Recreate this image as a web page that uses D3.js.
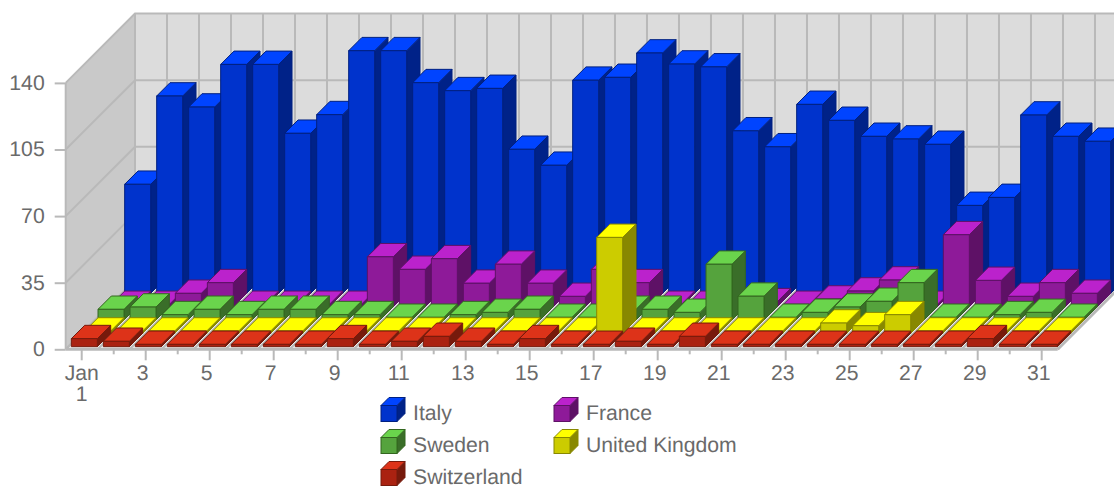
<!DOCTYPE html>
<html>
<head>
<meta charset="utf-8">
<script src="https://cdn.jsdelivr.net/npm/d3@7"></script>
<style>
  html, body { margin: 0; padding: 0; background: #fff; overflow: hidden; }
  svg { display: block; }
  text { font-family: "Liberation Sans", Arial, sans-serif; text-rendering: geometricPrecision; }
</style>
</head>
<body>
<div id="chart"></div>
<script>
// Values, one entry per day of January
const days = d3.range(1, 32);
const yTicks = [0, 35, 70, 105, 140];
const italy = [57.3, 103.7, 97.9, 120.3, 120.3, 84.1, 93.9, 127.5, 127.5, 110.7, 106.5, 107.7, 75.7, 67.3, 112, 113.5, 126.3, 120.5, 119, 85.4, 77, 99.3, 90.9, 82.5, 81.1, 78.3, 46.2, 50.4, 93.7, 82.5, 79.9];
const france = [1.2, 1.2, 7, 12.6, 1.2, 1.2, 1.2, 1.2, 26.2, 19.6, 25.2, 12.3, 22.3, 12.3, 5.4, 19.6, 12.6, 1.2, 1.2, 1.2, 2.6, 1.2, 4, 8.2, 14, 1.2, 37.8, 13.8, 5.4, 12.6, 7];
const sweden = [5.6, 6.8, 2.8, 5.6, 2.8, 5.6, 5.6, 2.8, 2.8, 1.4, 1.4, 2.8, 4, 5.6, 1.4, 1.4, 5.6, 5.6, 4, 29.3, 12.5, 1.4, 4, 6.8, 9.8, 19.6, 1.4, 1.4, 2.8, 4, 1.4];
const unitedKingdom = [1.2, 1.2, 1.2, 1.2, 1.2, 1.2, 1.2, 1.2, 1.2, 1.2, 1.2, 1.2, 1.2, 1.2, 1.2, 1.2, 50.4, 1.2, 1.2, 1.2, 1.2, 1.2, 1.2, 5.4, 4, 9.8, 1.2, 1.2, 1.2, 1.2, 1.2];
const switzerland = [4.2, 2.8, 1.2, 1.2, 1.2, 1.2, 1.2, 1.2, 4.2, 1.2, 2.8, 5.4, 2.8, 1.2, 4.2, 1.2, 1.2, 2.8, 1.2, 5.4, 1.2, 1.2, 1.2, 1.2, 1.2, 1.2, 1.2, 1.2, 4.2, 1.2, 1.2];

// Front row first, the same order the depth scale uses
const seriesNames = ["Switzerland", "United Kingdom", "Sweden", "France", "Italy"];
const seriesValues = [switzerland, unitedKingdom, sweden, france, italy];
const legendOrder = ["Italy", "France", "Sweden", "United Kingdom", "Switzerland"];

const colors = {
  "Italy":          {front: "#0033cc", top: "#0044ff", side: "#002288", line: "#002080"},
  "France":         {front: "#8e1a99", top: "#bb22cc", side: "#5e1166", line: "#5e1166"},
  "Sweden":         {front: "#55a33d", top: "#6ad44c", side: "#3a6e29", line: "#33661f"},
  "United Kingdom": {front: "#cccc00", top: "#ffff00", side: "#888800", line: "#888800"},
  "Switzerland":    {front: "#aa2211", top: "#dd3319", side: "#771a0c", line: "#771a0c"}
};

const drawChart = () => {

  /*******************************/
  /*    Declare the constants    */
  /*******************************/
  const width = 1114;
  const height = 487;
  const plotLeft = 65.7;
  const plotRight = 1057.7;
  const plotBottom = 349.3;
  const plotTop = 82.9;
  const wallDepth = 69.3;
  const gridColor = "#b9b9b9";
  const textColor = "#6a6a6a";
  const fontSize = 21.2;

  const svg = d3.select("#chart")
    .append("svg")
      .attr("width", width)
      .attr("height", height)
      .attr("viewBox", `0 0 ${width} ${height}`);

  /*******************************/
  /*         Make scales         */
  /*******************************/
  const xScale = d3.scaleBand()
    .domain(days)
    .range([plotLeft, plotRight])
    .paddingInner(0.1875)
    .paddingOuter(0.094);
  const yScale = d3.scaleLinear()
    .domain([0, 140])
    .range([plotBottom, plotTop]);
  const depthScale = d3.scaleBand()
    .domain(seriesNames)
    .range([2.65, wallDepth]);

  const path = d3.line();

  // Slot edges, for the grid lines running along the walls and the floor
  const slotEdges = d3.range(0, days.length + 1).map(i => plotLeft + i * xScale.step());

  /*******************************/
  /*      Walls and the floor    */
  /*******************************/
  svg.append("path")
    .attr("d", path([[plotLeft, yScale(140)], [plotLeft + wallDepth, yScale(140) - wallDepth], [plotLeft + wallDepth, plotBottom - wallDepth], [plotLeft, plotBottom]]) + "Z")
    .attr("fill", "#c9c9c9");
  svg.append("path")
    .attr("d", path([[plotLeft + wallDepth, yScale(140) - wallDepth], [plotRight + wallDepth, yScale(140) - wallDepth], [plotRight + wallDepth, plotBottom - wallDepth], [plotLeft + wallDepth, plotBottom - wallDepth]]) + "Z")
    .attr("fill", "#dcdcdc");
  svg.append("path")
    .attr("d", path([[plotLeft, plotBottom], [plotRight, plotBottom], [plotRight + wallDepth, plotBottom - wallDepth], [plotLeft + wallDepth, plotBottom - wallDepth]]) + "Z")
    .attr("fill", "#f2f2f2");

  // Grid lines on the left wall and the back wall
  const grid = svg.append("g")
    .attr("fill", "none")
    .attr("stroke", gridColor)
    .attr("stroke-width", 2);
  yTicks.forEach(tick => {
    grid.append("path")
      .attr("d", path([[plotLeft, yScale(tick)], [plotLeft + wallDepth, yScale(tick) - wallDepth], [plotRight + wallDepth, yScale(tick) - wallDepth]]));
  });
  slotEdges.forEach(edge => {
    grid.append("path")
      .attr("d", path([[edge, plotBottom], [edge + wallDepth, plotBottom - wallDepth], [edge + wallDepth, yScale(140) - wallDepth]]));
  });
  grid.append("path")
    .attr("d", path([[plotLeft, yScale(140)], [plotLeft, plotBottom]]));
  grid.append("path")
    .attr("stroke-width", 3)
    .attr("d", path([[plotRight, plotBottom], [plotRight + wallDepth, plotBottom - wallDepth]]));

  /*******************************/
  /*           The axes          */
  /*******************************/
  const leftAxis = d3.axisLeft(yScale)
    .tickValues(yTicks)
    .tickSize(11)
    .tickPadding(10);
  const leftAxisG = svg.append("g")
    .attr("transform", `translate(${plotLeft}, 0)`)
    .call(leftAxis);
  leftAxisG.select(".domain").remove();
  leftAxisG.selectAll("line")
    .attr("stroke", gridColor)
    .attr("stroke-width", 2);
  leftAxisG.selectAll("text")
    .attr("fill", textColor)
    .attr("font-size", fontSize)
    .attr("font-family", "Liberation Sans")
    .attr("dy", "0.3em");

  const bottomAxis = d3.axisBottom(xScale)
    .tickValues(days)
    .tickSize(11)
    .tickPadding(7)
    .tickFormat(d => d % 2 === 1 ? d : "");
  const bottomAxisG = svg.append("g")
    .attr("transform", `translate(0, ${plotBottom})`)
    .call(bottomAxis);
  bottomAxisG.select(".domain")
    .attr("d", path([[plotLeft, 0], [plotRight, 0]]))
    .attr("stroke", gridColor)
    .attr("stroke-width", 3);
  bottomAxisG.selectAll("line")
    .attr("stroke", gridColor)
    .attr("stroke-width", 2)
    .attr("y2", d => d % 2 === 1 ? 11 : 5);
  bottomAxisG.selectAll("text")
    .attr("fill", textColor)
    .attr("font-size", fontSize)
    .attr("font-family", "Liberation Sans")
    .attr("x", d => d === 1 ? 0 : -3)
    .attr("y", 16)
    .attr("dy", "0.71em")
    .each(function(d) {
      if (d !== 1) return;
      // First label carries the month on its own line
      const label = d3.select(this).text(null);
      label.append("tspan").attr("x", 0).attr("dy", "0.71em").text("Jan");
      label.append("tspan").attr("x", 0).attr("dy", 21).text("1");
    });

  /*******************************/
  /*           The bars          */
  /*******************************/
  // Back row first so the nearer rows cover it
  const rows = seriesNames.map((name, i) => ({name, values: seriesValues[i]})).reverse();
  const depth = depthScale.bandwidth();
  const barWidth = xScale.bandwidth();

  const rowGroups = svg.append("g")
    .selectAll("g")
    .data(rows)
    .join("g")
      .attr("stroke-width", 1)
      .attr("stroke-linejoin", "round");

  const bars = rowGroups.selectAll("g")
    .data(row => row.values.map((value, i) => ({name: row.name, day: days[i], value})))
    .join("g")
      .attr("stroke", d => colors[d.name].line);

  const barLeft = d => xScale(d.day) + depthScale(d.name);
  const barBase = d => yScale(0) - depthScale(d.name);
  const barTop = d => barBase(d) - (yScale(0) - yScale(d.value));

  bars.append("path")
    .attr("fill", d => colors[d.name].side)
    .attr("d", d => {
      const x = barLeft(d) + barWidth;
      return path([[x, barTop(d)], [x + depth, barTop(d) - depth], [x + depth, barBase(d) - depth], [x, barBase(d)]]) + "Z";
    });
  bars.append("path")
    .attr("fill", d => colors[d.name].top)
    .attr("d", d => {
      const x = barLeft(d);
      const y = barTop(d);
      return path([[x, y], [x + depth, y - depth], [x + barWidth + depth, y - depth], [x + barWidth, y]]) + "Z";
    });
  bars.append("rect")
    .attr("fill", d => colors[d.name].front)
    .attr("x", barLeft)
    .attr("y", barTop)
    .attr("width", barWidth)
    .attr("height", d => barBase(d) - barTop(d));

  /*******************************/
  /*          The legend         */
  /*******************************/
  const legendColumn = d3.scalePoint().domain([0, 1]).range([381, 554]);
  const legendRow = d3.scalePoint().domain([0, 1, 2]).range([405.5, 469.5]);
  const cube = 16;
  const cubeDepth = 8;

  const legendItems = svg.append("g")
    .selectAll("g")
    .data(legendOrder)
    .join("g")
      .attr("transform", (d, i) => `translate(${legendColumn(i % 2)}, ${legendRow(Math.floor(i / 2))})`)
      .attr("stroke", d => colors[d].line);

  legendItems.append("path")
    .attr("fill", d => colors[d].side)
    .attr("d", path([[cube, 0], [cube + cubeDepth, -cubeDepth], [cube + cubeDepth, cube - cubeDepth], [cube, cube]]) + "Z");
  legendItems.append("path")
    .attr("fill", d => colors[d].top)
    .attr("d", path([[0, 0], [cubeDepth, -cubeDepth], [cube + cubeDepth, -cubeDepth], [cube, 0]]) + "Z");
  legendItems.append("rect")
    .attr("fill", d => colors[d].front)
    .attr("width", cube)
    .attr("height", cube);
  legendItems.append("text")
    .text(d => d)
    .attr("x", 32)
    .attr("y", 14.5)
    .attr("stroke", "none")
    .attr("fill", textColor)
    .attr("font-size", fontSize);
};

drawChart();
</script>
</body>
</html>
